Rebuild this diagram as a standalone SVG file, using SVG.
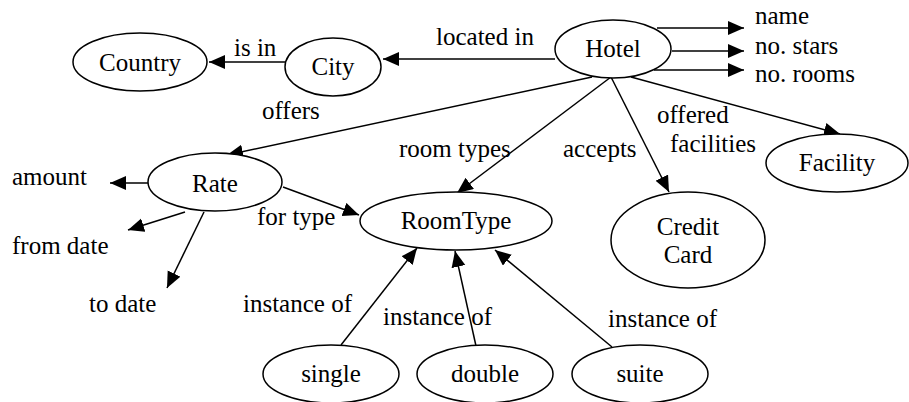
<svg xmlns="http://www.w3.org/2000/svg" width="909" height="402" viewBox="0 0 909 402" font-family="Liberation Serif, serif" font-size="25">
  <style>
    .node ellipse { fill: #fff; stroke: #000; stroke-width: 1.5; }
    .edges line { stroke: #000; stroke-width: 1.5; }
  </style>
  <defs>
    <marker id="arrow" markerUnits="userSpaceOnUse" markerWidth="17" markerHeight="15" refX="16" refY="7" orient="auto">
      <path d="M0,0 L16,7 L0,14 z" fill="#000"/>
    </marker>
  </defs>

  <!-- connectors -->
  <g class="edges" marker-end="url(#arrow)">
    <line x1="285" y1="62" x2="209" y2="62"/>
    <line x1="555" y1="59" x2="383" y2="59"/>
    <line x1="657" y1="28" x2="744" y2="28"/>
    <line x1="672" y1="51" x2="744" y2="51"/>
    <line x1="654" y1="70" x2="744" y2="70"/>
    <line x1="592" y1="77" x2="227" y2="155"/>
    <line x1="611" y1="77" x2="457" y2="193"/>
    <line x1="611" y1="77" x2="669" y2="192"/>
    <line x1="631" y1="77" x2="840" y2="134"/>
    <line x1="148" y1="183" x2="110" y2="183"/>
    <line x1="185" y1="212" x2="128" y2="230"/>
    <line x1="204" y1="212" x2="167" y2="288"/>
    <line x1="283" y1="187" x2="359" y2="215"/>
    <line x1="341" y1="345" x2="417" y2="248"/>
    <line x1="476" y1="346" x2="455" y2="251"/>
    <line x1="612" y1="347" x2="495" y2="250"/>
  </g>

  <!-- edge labels -->
  <g class="labels">
    <text x="234" y="56" style="font-family:'Liberation Serif',serif;font-size:25px">is in</text>
    <text x="436" y="45" style="font-family:'Liberation Serif',serif;font-size:25px">located in</text>
    <text x="755" y="24" style="font-family:'Liberation Serif',serif;font-size:25px">name</text>
    <text x="755" y="54" style="font-family:'Liberation Serif',serif;font-size:25px">no. stars</text>
    <text x="755" y="82" style="font-family:'Liberation Serif',serif;font-size:25px">no. rooms</text>
    <text x="262" y="119" style="font-family:'Liberation Serif',serif;font-size:25px">offers</text>
    <text x="399" y="157" style="font-family:'Liberation Serif',serif;font-size:25px">room types</text>
    <text x="563" y="157" style="font-family:'Liberation Serif',serif;font-size:25px">accepts</text>
    <text x="657" y="123" style="font-family:'Liberation Serif',serif;font-size:25px">offered</text>
    <text x="670" y="152" style="font-family:'Liberation Serif',serif;font-size:25px">facilities</text>
    <text x="12" y="185" style="font-family:'Liberation Serif',serif;font-size:25px">amount</text>
    <text x="12" y="254" style="font-family:'Liberation Serif',serif;font-size:25px">from date</text>
    <text x="89" y="312" style="font-family:'Liberation Serif',serif;font-size:25px">to date</text>
    <text x="257" y="225" style="font-family:'Liberation Serif',serif;font-size:25px">for type</text>
    <text x="243" y="312" style="font-family:'Liberation Serif',serif;font-size:25px">instance of</text>
    <text x="383" y="325" style="font-family:'Liberation Serif',serif;font-size:25px">instance of</text>
    <text x="608" y="327" style="font-family:'Liberation Serif',serif;font-size:25px">instance of</text>
  </g>

  <!-- nodes -->
  <g id="country" class="node"><ellipse cx="140" cy="62" rx="67" ry="29"/><text x="140" y="71" text-anchor="middle" style="font-family:'Liberation Serif',serif;font-size:25px">Country</text></g>
  <g id="city" class="node"><ellipse cx="333" cy="67" rx="48" ry="29"/><text x="333" y="75" text-anchor="middle" style="font-family:'Liberation Serif',serif;font-size:25px">City</text></g>
  <g id="hotel" class="node"><ellipse cx="613" cy="49" rx="58" ry="29"/><text x="613" y="57" text-anchor="middle" style="font-family:'Liberation Serif',serif;font-size:25px">Hotel</text></g>
  <g id="facility" class="node"><ellipse cx="837" cy="163" rx="71" ry="29"/><text x="837" y="171" text-anchor="middle" style="font-family:'Liberation Serif',serif;font-size:25px">Facility</text></g>
  <g id="rate" class="node"><ellipse cx="215" cy="182" rx="67" ry="29"/><text x="215" y="192" text-anchor="middle" style="font-family:'Liberation Serif',serif;font-size:25px">Rate</text></g>
  <g id="roomtype" class="node"><ellipse cx="456" cy="221" rx="96" ry="29"/><text x="456" y="229" text-anchor="middle" style="font-family:'Liberation Serif',serif;font-size:25px">RoomType</text></g>
  <g id="creditcard" class="node"><ellipse cx="688" cy="240" rx="77" ry="48"/><text x="688" y="235" text-anchor="middle" style="font-family:'Liberation Serif',serif;font-size:25px">Credit</text><text x="688" y="263" text-anchor="middle" style="font-family:'Liberation Serif',serif;font-size:25px">Card</text></g>
  <g id="single" class="node"><ellipse cx="331" cy="374" rx="68" ry="29"/><text x="331" y="382" text-anchor="middle" style="font-family:'Liberation Serif',serif;font-size:25px">single</text></g>
  <g id="double" class="node"><ellipse cx="485" cy="374" rx="68" ry="29"/><text x="485" y="382" text-anchor="middle" style="font-family:'Liberation Serif',serif;font-size:25px">double</text></g>
  <g id="suite" class="node"><ellipse cx="640" cy="374" rx="68" ry="29"/><text x="640" y="382" text-anchor="middle" style="font-family:'Liberation Serif',serif;font-size:25px">suite</text></g>
</svg>
